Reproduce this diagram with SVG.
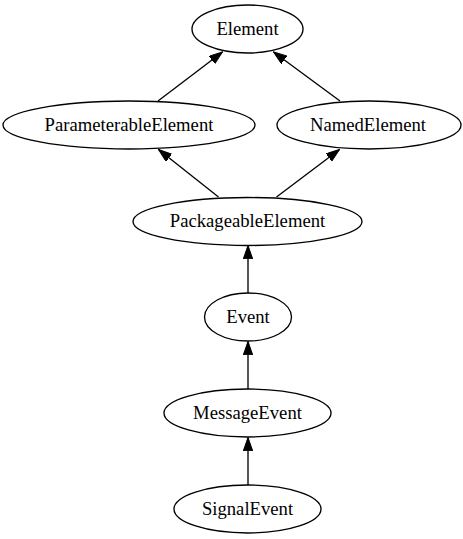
<svg xmlns="http://www.w3.org/2000/svg" width="463" height="539" viewBox="0 0 463 539">
<style>
.node ellipse{fill:none;stroke:#000;stroke-width:1.33}
.node text{font-family:"Liberation Serif","Times New Roman",serif;font-size:18.67px;text-anchor:middle;fill:#000}
.edge{stroke:#000;stroke-width:1.33;fill:none;marker-end:url(#arr)}
</style>
<defs>
<marker id="arr" markerUnits="userSpaceOnUse" markerWidth="14" markerHeight="10" refX="13.3" refY="4.67" orient="auto">
<path d="M0,0 L13.3,4.67 L0,9.33 Z" fill="#000" stroke="#000" stroke-width="1"/>
</marker>
</defs>
<rect width="463" height="539" fill="#fff"/>
<g id="connectors">
<line class="edge" x1="158" y1="101" x2="222.5" y2="52"/>
<line class="edge" x1="340" y1="101" x2="273.5" y2="52"/>
<line class="edge" x1="218.5" y1="197" x2="158.5" y2="149.5"/>
<line class="edge" x1="276.5" y1="197" x2="339.5" y2="149.5"/>
<line class="edge" x1="248" y1="293" x2="248" y2="245.5"/>
<line class="edge" x1="248" y1="389" x2="248" y2="341.5"/>
<line class="edge" x1="248" y1="485" x2="248" y2="437.5"/>
</g>
<g id="Element" class="node"><ellipse cx="247.5" cy="29" rx="55.5" ry="24"/><text x="247.5" y="34.5">Element</text></g>
<g id="ParameterableElement" class="node"><ellipse cx="129" cy="125" rx="126" ry="24"/><text x="129" y="130.5">ParameterableElement</text></g>
<g id="NamedElement" class="node"><ellipse cx="369" cy="125" rx="92" ry="24"/><text x="368" y="130.5">NamedElement</text></g>
<g id="PackageableElement" class="node"><ellipse cx="247.5" cy="221.5" rx="114.5" ry="24"/><text x="247.5" y="227">PackageableElement</text></g>
<g id="Event" class="node"><ellipse cx="248" cy="317" rx="43.5" ry="24"/><text x="248" y="322.5">Event</text></g>
<g id="MessageEvent" class="node"><ellipse cx="247.5" cy="413" rx="83.5" ry="24"/><text x="247.5" y="418.5">MessageEvent</text></g>
<g id="SignalEvent" class="node"><ellipse cx="247.5" cy="509" rx="73.5" ry="24"/><text x="247.5" y="514.5">SignalEvent</text></g>
</svg>
